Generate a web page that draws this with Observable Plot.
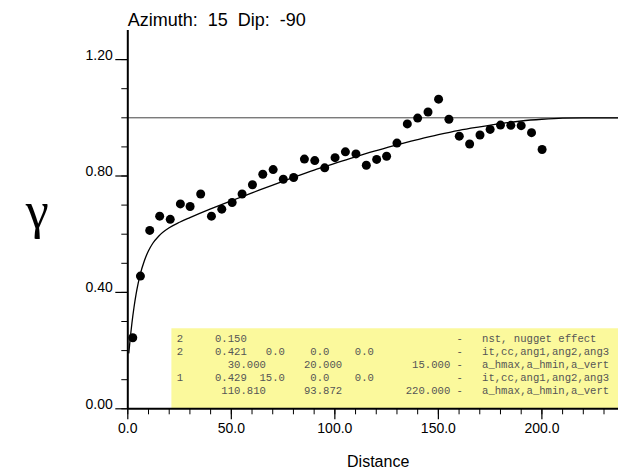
<!DOCTYPE html>
<html>
<head>
<meta charset="utf-8">
<script src="https://cdn.jsdelivr.net/npm/d3@7"></script>
<script src="https://cdn.jsdelivr.net/npm/@observablehq/plot@0.6"></script>
<style>
  html, body { margin: 0; padding: 0; background: #fff; }
  svg text.mono { white-space: pre; }
</style>
</head>
<body>
<div id="chart"></div>
<script>
const titleText = "Azimuth:  15  Dip:  -90";
const xLabel = "Distance";
const yLabel = "γ";

// experimental variogram points
const lagDist = [2.4, 6.1, 10.6, 15.4, 20.5, 25.4, 30.1, 35.2, 40.4, 45.4, 50.4, 55.2, 60.2, 65.2, 70.2, 75.1, 80.1, 85.3, 90.3, 95.1, 100.1, 105.1, 110.2, 115.2, 120.2, 125.0, 130.0, 135.0, 140.0, 145.0, 150.1, 155.1, 160.1, 165.1, 170.1, 175.0, 180.0, 185.0, 190.0, 195.0, 200.1];
const gammaVals = [0.244, 0.456, 0.613, 0.662, 0.651, 0.704, 0.695, 0.738, 0.662, 0.686, 0.709, 0.738, 0.770, 0.806, 0.822, 0.789, 0.795, 0.858, 0.853, 0.828, 0.863, 0.883, 0.876, 0.837, 0.857, 0.868, 0.913, 0.979, 0.999, 1.020, 1.064, 0.995, 0.937, 0.910, 0.941, 0.960, 0.975, 0.974, 0.973, 0.949, 0.891];

// model curve
const modelH = [0.5, 1, 2, 3, 4, 5, 6, 8, 10, 12, 15, 20, 25, 30, 40, 50, 60, 70, 80, 90, 100, 110, 120, 130, 140, 150, 160, 170, 180, 190, 200, 210, 220, 237];
const modelGamma = [0.192, 0.229, 0.295, 0.349, 0.394, 0.431, 0.462, 0.509, 0.543, 0.568, 0.594, 0.622, 0.641, 0.657, 0.687, 0.715, 0.742, 0.769, 0.795, 0.820, 0.843, 0.866, 0.887, 0.907, 0.925, 0.942, 0.957, 0.969, 0.980, 0.989, 0.995, 0.999, 1.000, 1.000];

const sill = [1.0];

// axis ticks
const xMajor = [0, 50, 100, 150, 200];
const xMinor = [0, 10, 20, 30, 40, 50, 60, 70, 80, 90, 100, 110, 120, 130, 140, 150, 160, 170, 180, 190, 200, 210, 220, 230];
const yMajor = [0, 0.4, 0.8, 1.2];
const yMinor = [0, 0.1, 0.2, 0.3, 0.4, 0.5, 0.6, 0.7, 0.8, 0.9, 1.0, 1.1, 1.2];

// model parameter text box
const boxLines = [
  "2     0.150                                 -   nst, nugget effect",
  "2     0.421   0.0    0.0    0.0             -   it,cc,ang1,ang2,ang3",
  "        30.000      20.000           15.000 -   a_hmax,a_hmin,a_vert",
  "1     0.429  15.0    0.0    0.0             -   it,cc,ang1,ang2,ang3",
  "       110.810      93.872          220.000 -   a_hmax,a_hmin,a_vert"
];

const points = lagDist.map((d, i) => ({h: d, g: gammaVals[i]}));
const model = modelH.map((d, i) => ({h: d, g: modelGamma[i]}));

const font = "'Liberation Sans', Arial, sans-serif";

const chart = Plot.plot({
  width: 618,
  height: 470,
  marginTop: 30,
  marginBottom: 61.7,
  marginLeft: 127.3,
  marginRight: 0,
  style: {fontFamily: font, color: "#000", background: "#fff", overflow: "visible"},
  x: {domain: [0, 237]},
  y: {domain: [0, 1.3]},
  marks: [
    Plot.rect([0], {x1: 21.3, x2: 237, y1: 0, y2: 0.275, fill: "#fbf99c"}),
    Plot.text(boxLines, {
      x: 23.7,
      y: (d, i) => 0.2287 - i * 0.0442,
      text: d => d,
      textAnchor: "start",
      lineAnchor: "bottom",
      fontFamily: "'Liberation Mono', 'DejaVu Sans Mono', monospace",
      fontSize: 10.6,
      fill: "#555",
      className: "mono"
    }),
    Plot.ruleY(sill, {stroke: "#444", strokeWidth: 1}),
    Plot.line(model, {x: "h", y: "g", stroke: "#000", strokeWidth: 1.3, curve: "monotone-x"}),
    Plot.dot(points, {x: "h", y: "g", r: 4.5, fill: "#000", stroke: "none"}),
    Plot.axisX({ticks: xMinor, tickSize: 6, tickFormat: () => "", label: null, strokeWidth: 1}),
    Plot.axisX({ticks: xMajor, tickSize: 11, tickPadding: 3, tickFormat: d => d.toFixed(1), label: null, fontSize: 14, strokeWidth: 1.2}),
    Plot.axisY({ticks: yMinor, tickSize: 6, tickFormat: () => "", label: null, strokeWidth: 1}),
    Plot.axisY({ticks: yMajor, tickSize: 12, tickPadding: 3, tickFormat: d => d.toFixed(2), label: null, fontSize: 14, lineAnchor: "bottom", strokeWidth: 1.2}),
    Plot.ruleY([0], {stroke: "#000", strokeWidth: 2}),
    Plot.ruleX([0], {stroke: "#000", strokeWidth: 2}),
    Plot.text([titleText], {x: 0, y: 1.3, text: d => d, textAnchor: "start", lineAnchor: "bottom", dy: -5, fontSize: 18, fill: "#000", className: "mono"}),
    Plot.text([xLabel], {frameAnchor: "bottom", text: d => d, dx: 5, dy: 58.4, lineAnchor: "bottom", fontSize: 16, fill: "#000"}),
    Plot.text([yLabel], {frameAnchor: "left", text: d => d, dx: -102, dy: 8, lineAnchor: "bottom", fontSize: 52, fontFamily: "'Liberation Serif', 'DejaVu Serif', serif", fill: "#000"})
  ]
});

d3.select(chart).selectAll("text").each(function() {
  this.setAttributeNS("http://www.w3.org/XML/1998/namespace", "xml:space", "preserve");
});
document.getElementById("chart").appendChild(chart);
</script>
</body>
</html>
